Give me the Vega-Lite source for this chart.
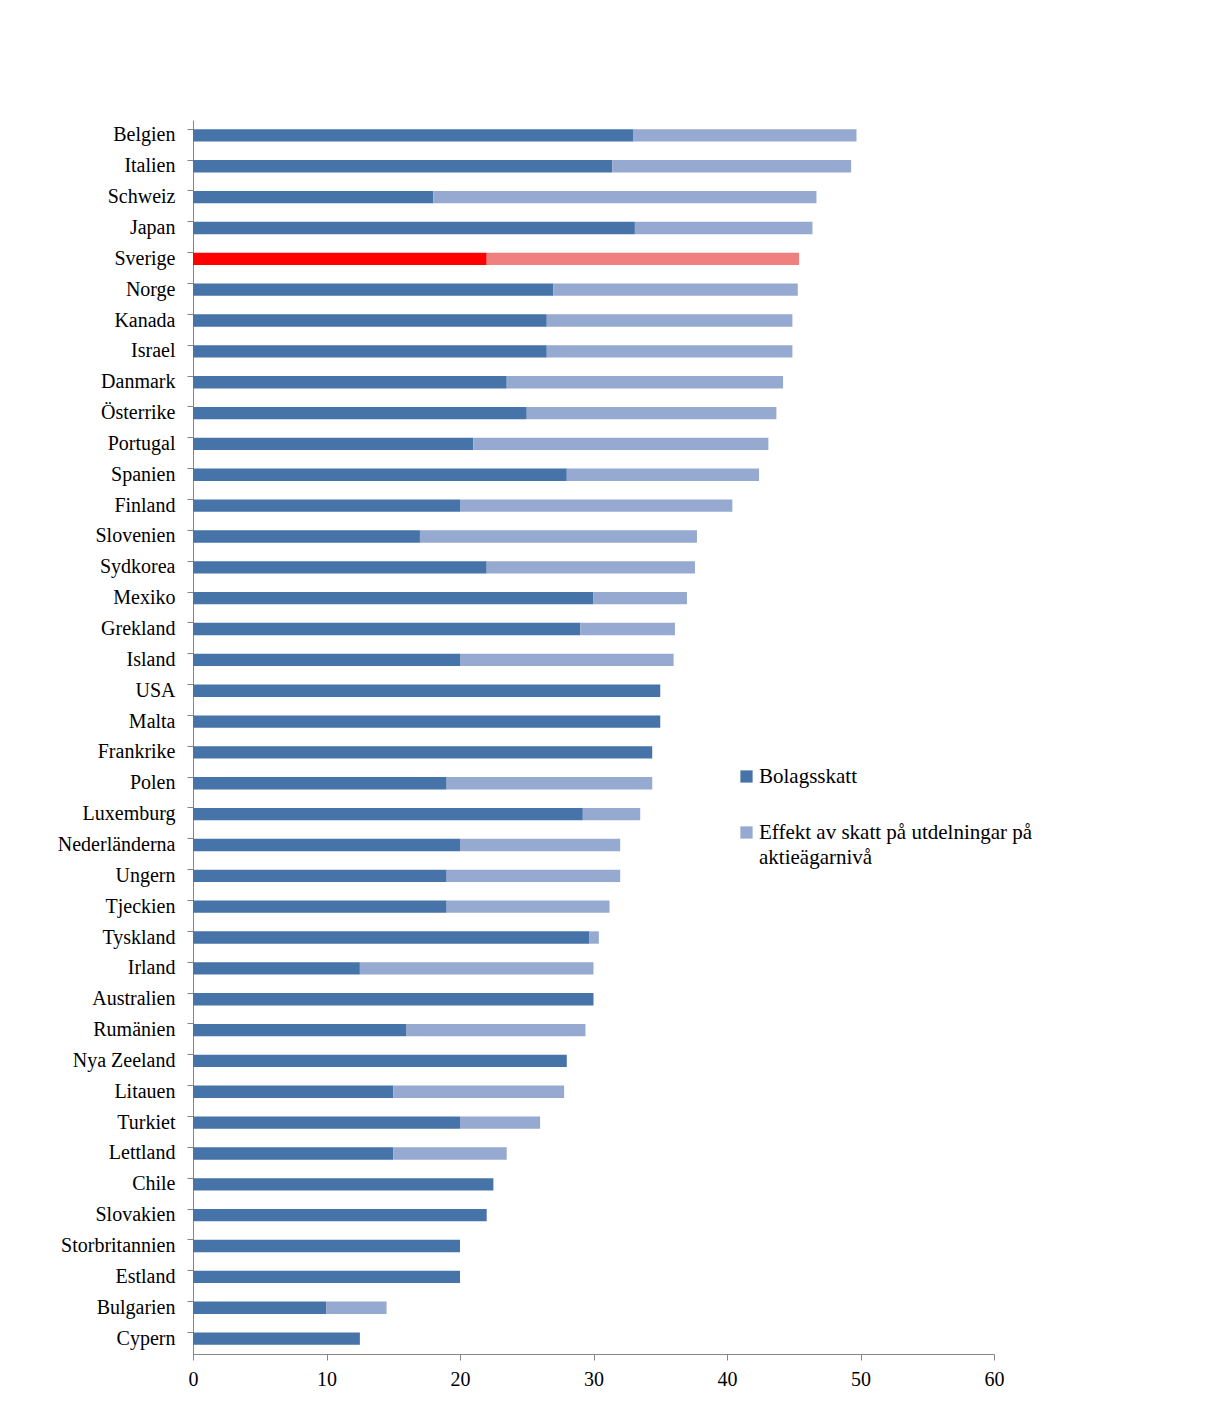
{
  "$schema": "https://vega.github.io/schema/vega-lite/v6.json",
  "width": 801,
  "height": 1234,
  "autosize": {"type": "none"},
  "padding": {"left": 193, "top": 120, "right": 217, "bottom": 60},
  "background": "white",
  "config": {
    "view": {"stroke": null},
    "font": "Liberation Serif"
  },
  "data": {
    "values": [
      {"land": "Belgien", "serie": "Bolagsskatt", "ordning": 1, "varde": 33.0},
      {"land": "Belgien", "serie": "Effekt av skatt på utdelningar på aktieägarnivå", "ordning": 2, "varde": 16.7},
      {"land": "Italien", "serie": "Bolagsskatt", "ordning": 1, "varde": 31.4},
      {"land": "Italien", "serie": "Effekt av skatt på utdelningar på aktieägarnivå", "ordning": 2, "varde": 17.9},
      {"land": "Schweiz", "serie": "Bolagsskatt", "ordning": 1, "varde": 18.0},
      {"land": "Schweiz", "serie": "Effekt av skatt på utdelningar på aktieägarnivå", "ordning": 2, "varde": 28.7},
      {"land": "Japan", "serie": "Bolagsskatt", "ordning": 1, "varde": 33.1},
      {"land": "Japan", "serie": "Effekt av skatt på utdelningar på aktieägarnivå", "ordning": 2, "varde": 13.3},
      {"land": "Sverige", "serie": "Bolagsskatt", "ordning": 1, "varde": 22.0},
      {"land": "Sverige", "serie": "Effekt av skatt på utdelningar på aktieägarnivå", "ordning": 2, "varde": 23.4},
      {"land": "Norge", "serie": "Bolagsskatt", "ordning": 1, "varde": 27.0},
      {"land": "Norge", "serie": "Effekt av skatt på utdelningar på aktieägarnivå", "ordning": 2, "varde": 18.3},
      {"land": "Kanada", "serie": "Bolagsskatt", "ordning": 1, "varde": 26.5},
      {"land": "Kanada", "serie": "Effekt av skatt på utdelningar på aktieägarnivå", "ordning": 2, "varde": 18.4},
      {"land": "Israel", "serie": "Bolagsskatt", "ordning": 1, "varde": 26.5},
      {"land": "Israel", "serie": "Effekt av skatt på utdelningar på aktieägarnivå", "ordning": 2, "varde": 18.4},
      {"land": "Danmark", "serie": "Bolagsskatt", "ordning": 1, "varde": 23.5},
      {"land": "Danmark", "serie": "Effekt av skatt på utdelningar på aktieägarnivå", "ordning": 2, "varde": 20.7},
      {"land": "Österrike", "serie": "Bolagsskatt", "ordning": 1, "varde": 25.0},
      {"land": "Österrike", "serie": "Effekt av skatt på utdelningar på aktieägarnivå", "ordning": 2, "varde": 18.7},
      {"land": "Portugal", "serie": "Bolagsskatt", "ordning": 1, "varde": 21.0},
      {"land": "Portugal", "serie": "Effekt av skatt på utdelningar på aktieägarnivå", "ordning": 2, "varde": 22.1},
      {"land": "Spanien", "serie": "Bolagsskatt", "ordning": 1, "varde": 28.0},
      {"land": "Spanien", "serie": "Effekt av skatt på utdelningar på aktieägarnivå", "ordning": 2, "varde": 14.4},
      {"land": "Finland", "serie": "Bolagsskatt", "ordning": 1, "varde": 20.0},
      {"land": "Finland", "serie": "Effekt av skatt på utdelningar på aktieägarnivå", "ordning": 2, "varde": 20.4},
      {"land": "Slovenien", "serie": "Bolagsskatt", "ordning": 1, "varde": 17.0},
      {"land": "Slovenien", "serie": "Effekt av skatt på utdelningar på aktieägarnivå", "ordning": 2, "varde": 20.75},
      {"land": "Sydkorea", "serie": "Bolagsskatt", "ordning": 1, "varde": 22.0},
      {"land": "Sydkorea", "serie": "Effekt av skatt på utdelningar på aktieägarnivå", "ordning": 2, "varde": 15.6},
      {"land": "Mexiko", "serie": "Bolagsskatt", "ordning": 1, "varde": 30.0},
      {"land": "Mexiko", "serie": "Effekt av skatt på utdelningar på aktieägarnivå", "ordning": 2, "varde": 7.0},
      {"land": "Grekland", "serie": "Bolagsskatt", "ordning": 1, "varde": 29.0},
      {"land": "Grekland", "serie": "Effekt av skatt på utdelningar på aktieägarnivå", "ordning": 2, "varde": 7.1},
      {"land": "Island", "serie": "Bolagsskatt", "ordning": 1, "varde": 20.0},
      {"land": "Island", "serie": "Effekt av skatt på utdelningar på aktieägarnivå", "ordning": 2, "varde": 16.0},
      {"land": "USA", "serie": "Bolagsskatt", "ordning": 1, "varde": 35.0},
      {"land": "Malta", "serie": "Bolagsskatt", "ordning": 1, "varde": 35.0},
      {"land": "Frankrike", "serie": "Bolagsskatt", "ordning": 1, "varde": 34.4},
      {"land": "Polen", "serie": "Bolagsskatt", "ordning": 1, "varde": 19.0},
      {"land": "Polen", "serie": "Effekt av skatt på utdelningar på aktieägarnivå", "ordning": 2, "varde": 15.4},
      {"land": "Luxemburg", "serie": "Bolagsskatt", "ordning": 1, "varde": 29.2},
      {"land": "Luxemburg", "serie": "Effekt av skatt på utdelningar på aktieägarnivå", "ordning": 2, "varde": 4.3},
      {"land": "Nederländerna", "serie": "Bolagsskatt", "ordning": 1, "varde": 20.0},
      {"land": "Nederländerna", "serie": "Effekt av skatt på utdelningar på aktieägarnivå", "ordning": 2, "varde": 12.0},
      {"land": "Ungern", "serie": "Bolagsskatt", "ordning": 1, "varde": 19.0},
      {"land": "Ungern", "serie": "Effekt av skatt på utdelningar på aktieägarnivå", "ordning": 2, "varde": 13.0},
      {"land": "Tjeckien", "serie": "Bolagsskatt", "ordning": 1, "varde": 19.0},
      {"land": "Tjeckien", "serie": "Effekt av skatt på utdelningar på aktieägarnivå", "ordning": 2, "varde": 12.2},
      {"land": "Tyskland", "serie": "Bolagsskatt", "ordning": 1, "varde": 29.7},
      {"land": "Tyskland", "serie": "Effekt av skatt på utdelningar på aktieägarnivå", "ordning": 2, "varde": 0.7},
      {"land": "Irland", "serie": "Bolagsskatt", "ordning": 1, "varde": 12.5},
      {"land": "Irland", "serie": "Effekt av skatt på utdelningar på aktieägarnivå", "ordning": 2, "varde": 17.5},
      {"land": "Australien", "serie": "Bolagsskatt", "ordning": 1, "varde": 30.0},
      {"land": "Rumänien", "serie": "Bolagsskatt", "ordning": 1, "varde": 16.0},
      {"land": "Rumänien", "serie": "Effekt av skatt på utdelningar på aktieägarnivå", "ordning": 2, "varde": 13.4},
      {"land": "Nya Zeeland", "serie": "Bolagsskatt", "ordning": 1, "varde": 28.0},
      {"land": "Litauen", "serie": "Bolagsskatt", "ordning": 1, "varde": 15.0},
      {"land": "Litauen", "serie": "Effekt av skatt på utdelningar på aktieägarnivå", "ordning": 2, "varde": 12.8},
      {"land": "Turkiet", "serie": "Bolagsskatt", "ordning": 1, "varde": 20.0},
      {"land": "Turkiet", "serie": "Effekt av skatt på utdelningar på aktieägarnivå", "ordning": 2, "varde": 6.0},
      {"land": "Lettland", "serie": "Bolagsskatt", "ordning": 1, "varde": 15.0},
      {"land": "Lettland", "serie": "Effekt av skatt på utdelningar på aktieägarnivå", "ordning": 2, "varde": 8.5},
      {"land": "Chile", "serie": "Bolagsskatt", "ordning": 1, "varde": 22.5},
      {"land": "Slovakien", "serie": "Bolagsskatt", "ordning": 1, "varde": 22.0},
      {"land": "Storbritannien", "serie": "Bolagsskatt", "ordning": 1, "varde": 20.0},
      {"land": "Estland", "serie": "Bolagsskatt", "ordning": 1, "varde": 20.0},
      {"land": "Bulgarien", "serie": "Bolagsskatt", "ordning": 1, "varde": 10.0},
      {"land": "Bulgarien", "serie": "Effekt av skatt på utdelningar på aktieägarnivå", "ordning": 2, "varde": 4.5},
      {"land": "Cypern", "serie": "Bolagsskatt", "ordning": 1, "varde": 12.5}
    ]
  },
  "mark": {"type": "bar"},
  "encoding": {
    "y": {
      "field": "land",
      "type": "nominal",
      "sort": ["Belgien","Italien","Schweiz","Japan","Sverige","Norge","Kanada","Israel","Danmark","Österrike","Portugal","Spanien","Finland","Slovenien","Sydkorea","Mexiko","Grekland","Island","USA","Malta","Frankrike","Polen","Luxemburg","Nederländerna","Ungern","Tjeckien","Tyskland","Irland","Australien","Rumänien","Nya Zeeland","Litauen","Turkiet","Lettland","Chile","Slovakien","Storbritannien","Estland","Bulgarien","Cypern"],
      "scale": {"paddingInner": 0.6, "paddingOuter": 0.3},
      "axis": {
        "title": null,
        "bandPosition": 0,
        "domainColor": "#868686",
        "tickColor": "#868686",
        "tickSize": 6,
        "labelPadding": 12,
        "labelFont": "Liberation Serif",
        "labelFontSize": 20,
        "labelColor": "#000000",
        "labelLimit": 300
      }
    },
    "x": {
      "field": "varde",
      "type": "quantitative",
      "stack": "zero",
      "scale": {"domain": [0, 60], "nice": false},
      "axis": {
        "title": null,
        "values": [0, 10, 20, 30, 40, 50, 60],
        "grid": false,
        "labelFlush": false,
        "domainColor": "#868686",
        "tickColor": "#868686",
        "tickSize": 6,
        "labelPadding": 9,
        "labelFont": "Liberation Serif",
        "labelFontSize": 20,
        "labelColor": "#000000"
      }
    },
    "order": {"field": "ordning", "type": "quantitative"},
    "color": {
      "condition": [
        {"test": "datum.land === 'Sverige' && datum.serie === 'Bolagsskatt'", "value": "#FF0000"},
        {"test": "datum.land === 'Sverige'", "value": "#F08080"}
      ],
      "field": "serie",
      "type": "nominal",
      "scale": {
        "domain": ["Bolagsskatt", "Effekt av skatt på utdelningar på aktieägarnivå"],
        "range": ["#4674A8", "#95A9D1"]
      },
      "legend": {
        "title": null,
        "orient": "none",
        "legendX": 543,
        "legendY": 646,
        "symbolType": "square",
        "symbolSize": 150,
        "symbolStrokeWidth": 0,
        "labelFont": "Liberation Serif",
        "labelFontSize": 21,
        "labelColor": "#000000",
        "labelOffset": 2,
        "labelLimit": 400,
        "rowPadding": 34,
        "labelExpr": "datum.label === 'Bolagsskatt' ? 'Bolagsskatt' : ['Effekt av skatt på utdelningar på', 'aktieägarnivå']",
        "encode": {"labels": {"update": {"lineHeight": {"value": 25}}}}
      }
    }
  }
}
